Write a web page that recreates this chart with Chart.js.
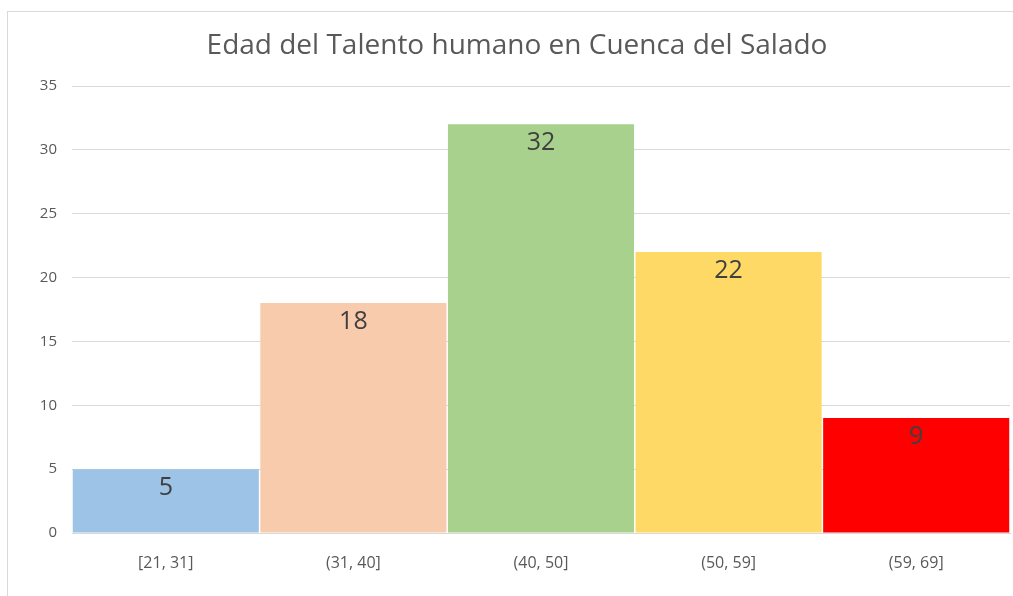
<!DOCTYPE html>
<html lang="es">
<head>
    <meta charset="UTF-8">
    <title>Edad del Talento humano en Cuenca del Salado</title>
    <script src="https://cdn.jsdelivr.net/npm/chart.js"></script>
    <style>
        body {
            margin: 0;
            padding: 0;
            background: #ffffff;
            overflow: hidden;
        }
        .frame {
            position: absolute;
            left: 7px;
            top: 11px;
            width: 1100px;
            height: 700px;
            border: 1px solid #d9d9d9;
        }
        .chart-container {
            position: absolute;
            left: 0;
            top: 0;
            width: 1013px;
            height: 596px;
        }
    </style>
</head>
<body>
    <div class="frame"></div>
    <div class="chart-container">
        <canvas id="ageChart"></canvas>
    </div>

    <script>
        const chartTitle = 'Edad del Talento humano en Cuenca del Salado';
        const categories = ['[21, 31]', '(31, 40]', '(40, 50]', '(50, 59]', '(59, 69]'];
        const counts = [5, 18, 32, 22, 9];
        const barColors = ['#9DC3E6', '#F8CBAD', '#A9D18E', '#FFD966', '#FF0000'];
        const yTicks = [0, 5, 10, 15, 20, 25, 30, 35];

        const textFont = '"Open Sans", sans-serif';

        // title drawn by hand: in the original it is centred on a wider chart area
        const offsetTitle = {
            id: 'offsetTitle',
            afterDraw(chart) {
                const ctx = chart.ctx;
                ctx.save();
                ctx.font = '28px ' + textFont;
                ctx.fillStyle = '#595959';
                ctx.textAlign = 'center';
                ctx.textBaseline = 'middle';
                ctx.fillText(chartTitle, 517, 46);
                ctx.restore();
            }
        };

        // values written inside the top of each bar
        const barValueLabels = {
            id: 'barValueLabels',
            afterDatasetsDraw(chart) {
                const ctx = chart.ctx;
                const meta = chart.getDatasetMeta(0);
                ctx.save();
                ctx.font = '25px ' + textFont;
                ctx.fillStyle = '#404040';
                ctx.textAlign = 'center';
                ctx.textBaseline = 'middle';
                meta.data.forEach((bar, i) => {
                    ctx.fillText(String(counts[i]), bar.x, bar.y + 19);
                });
                ctx.restore();
            }
        };

        const ctx = document.getElementById('ageChart').getContext('2d');
        new Chart(ctx, {
            type: 'bar',
            data: {
                labels: categories,
                datasets: [{
                    data: counts,
                    backgroundColor: barColors,
                    borderWidth: 0,
                    categoryPercentage: 1,
                    barPercentage: 0.992
                }]
            },
            options: {
                responsive: true,
                maintainAspectRatio: false,
                animation: false,
                layout: {
                    padding: { left: 0, right: 3, top: 86, bottom: 0 }
                },
                plugins: {
                    legend: { display: false },
                    tooltip: { enabled: false },
                    title: { display: false }
                },
                scales: {
                    x: {
                        grid: { display: false, drawTicks: false },
                        border: { display: true, color: '#d9d9d9' },
                        ticks: {
                            color: '#595959',
                            font: { family: textFont, size: 16 },
                            padding: 21
                        },
                        afterFit(scale) { scale.height = 63; }
                    },
                    y: {
                        min: 0,
                        max: 35,
                        afterBuildTicks(scale) {
                            scale.ticks = yTicks.map(v => ({ value: v }));
                        },
                        grid: { color: '#d9d9d9', drawTicks: false },
                        border: { display: false },
                        ticks: {
                            color: '#595959',
                            font: { family: textFont, size: 15 },
                            padding: 15
                        },
                        afterFit(scale) { scale.width = 72; }
                    }
                }
            },
            plugins: [barValueLabels, offsetTitle]
        });
    </script>
</body>
</html>
